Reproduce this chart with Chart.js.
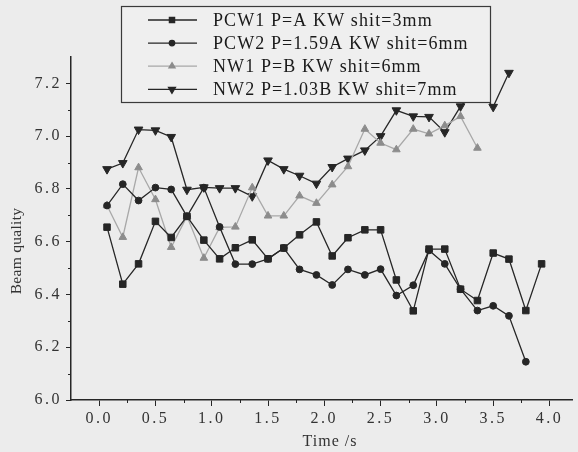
<!DOCTYPE html>
<html>
<head>
<meta charset="utf-8">
<script src="https://cdn.jsdelivr.net/npm/chart.js@4/dist/chart.umd.min.js"></script>
<style>
  html, body { margin: 0; padding: 0; background: #ececec; }
  #wrap { width: 578px; height: 452px; position: relative; }
</style>
</head>
<body>
<div id="wrap"><canvas id="c" width="578" height="452"></canvas></div>
<script>
// time of each sample (s)
const times = [0.07, 0.21, 0.35, 0.50, 0.64, 0.78, 0.93, 1.07, 1.21, 1.36, 1.50, 1.64, 1.78, 1.93,
               2.07, 2.21, 2.36, 2.50, 2.64, 2.79, 2.93, 3.07, 3.21, 3.36, 3.50, 3.64, 3.79, 3.93];

const pcw1 = [6.655, 6.439, 6.516, 6.677, 6.616, 6.696, 6.606, 6.535, 6.577, 6.607, 6.535, 6.576, 6.626, 6.675,
              6.546, 6.615, 6.645, 6.645, 6.455, 6.338, 6.572, 6.572, 6.420, 6.377, 6.557, 6.534, 6.339, 6.516];
const pcw2 = [6.737, 6.818, 6.756, 6.805, 6.798, 6.696, 6.805, 6.656, 6.515, 6.515, 6.535, 6.576, 6.495, 6.474,
              6.436, 6.495, 6.474, 6.496, 6.396, 6.435, 6.567, 6.516, 6.420, 6.339, 6.357, 6.319, 6.145];
const nw1  = [6.737, 6.617, 6.881, 6.760, 6.579, 6.696, 6.538, 6.654, 6.656, 6.805, 6.698, 6.698, 6.774, 6.746,
              6.816, 6.885, 7.027, 6.974, 6.949, 7.027, 7.009, 7.040, 7.075, 6.955];
const nw2  = [6.875, 6.898, 7.025, 7.022, 6.997, 6.797, 6.806, 6.803, 6.803, 6.772, 6.908, 6.875, 6.850, 6.820,
              6.883, 6.915, 6.946, 7.000, 7.098, 7.075, 7.073, 7.015, 7.113, 7.180, 7.111, 7.240];

const seriesNames = ['PCW1 P=A KW shit=3mm', 'PCW2 P=1.59A KW shit=6mm', 'NW1 P=B KW shit=6mm', 'NW2 P=1.03B KW shit=7mm'];

const xTicks = [0, 0.5, 1.0, 1.5, 2.0, 2.5, 3.0, 3.5, 4.0];
const xMinor = [0.25, 0.75, 1.25, 1.75, 2.25, 2.75, 3.25, 3.75];
const yTicks = [6.0, 6.2, 6.4, 6.6, 6.8, 7.0, 7.2];
const yMinor = [6.1, 6.3, 6.5, 6.7, 6.9, 7.1];

const ink = '#262626';
const serif = 'Liberation Serif';

const pts = arr => arr.map((v, i) => ({ x: times[i], y: v }));

const datasets = [
  { label: seriesNames[0], data: pts(pcw1), borderColor: ink, backgroundColor: ink, pointStyle: 'rect', pointRadius: 4.6, rotation: 0 },
  { label: seriesNames[1], data: pts(pcw2), borderColor: ink, backgroundColor: ink, pointStyle: 'circle', pointRadius: 3.4, rotation: 0 },
  { label: seriesNames[2], data: pts(nw1), borderColor: '#a8a8a8', backgroundColor: '#8c8c8c', pointBorderColor: '#8c8c8c', pointStyle: 'triangle', pointRadius: 4.4, rotation: 0 },
  { label: seriesNames[3], data: pts(nw2), borderColor: ink, backgroundColor: ink, pointStyle: 'triangle', pointRadius: 5, rotation: 180 }
].map(d => Object.assign({ borderWidth: 1.3, pointBorderWidth: 1, tension: 0, fill: false }, d));

// small ticks between labelled ones, axis titles, and the legend box drawn over the lines
const extras = {
  id: 'extras',
  afterDatasetsDraw(chart) {
    const ctx = chart.ctx, xs = chart.scales.x, ys = chart.scales.y;
    ctx.save();
    ctx.strokeStyle = ink; ctx.lineWidth = 1;
    ctx.beginPath();
    xMinor.forEach(v => { const px = Math.round(xs.getPixelForValue(v)) + 0.5; ctx.moveTo(px, ys.bottom); ctx.lineTo(px, ys.bottom + 3); });
    yMinor.forEach(v => { const py = Math.round(ys.getPixelForValue(v)) + 0.5; ctx.moveTo(xs.left - 3, py); ctx.lineTo(xs.left, py); });
    ctx.stroke();

    // axis titles
    ctx.fillStyle = '#333';
    ctx.textAlign = 'center'; ctx.textBaseline = 'middle';
    ctx.letterSpacing = '1px';
    ctx.font = '16px "' + serif + '"';
    ctx.fillText('Time /s', 330, 442);
    ctx.save();
    ctx.translate(17, 251); ctx.rotate(-Math.PI / 2);
    ctx.letterSpacing = '0.3px';
    ctx.font = '15.5px "' + serif + '"';
    ctx.fillText('Beam quality', 0, 0);
    ctx.restore();

    // legend
    const bx = 121, by = 6, bw = 369, bh = 96;
    ctx.fillStyle = '#efefef';
    ctx.fillRect(bx, by, bw, bh);
    ctx.strokeStyle = '#3a3a3a'; ctx.lineWidth = 1.2;
    ctx.strokeRect(bx + 0.5, by + 0.5, bw, bh);
    ctx.font = '18px "' + serif + '"';
    ctx.letterSpacing = '1.1px';
    ctx.textAlign = 'left';
    ctx.textBaseline = 'middle';
    chart.data.datasets.forEach((d, i) => {
      const cy = 20 + i * 23.1;
      ctx.strokeStyle = d.borderColor; ctx.lineWidth = 1.3;
      ctx.beginPath(); ctx.moveTo(148, cy); ctx.lineTo(197, cy); ctx.stroke();
      ctx.fillStyle = d.pointBorderColor || d.backgroundColor;
      ctx.strokeStyle = d.pointBorderColor || d.borderColor;
      Chart.helpers.drawPoint(ctx, { pointStyle: d.pointStyle, rotation: d.rotation, radius: d.pointRadius * 0.8, borderWidth: 1 }, 172, cy);
      ctx.fillStyle = '#1a1a1a';
      ctx.fillText(d.label, 213, cy + 1);
    });
    ctx.restore();
  }
};

const spacing = {
  id: 'spacing',
  beforeDraw(chart) { chart.ctx.letterSpacing = '2.5px'; }
};

new Chart(document.getElementById('c'), {
  type: 'line',
  data: { datasets },
  options: {
    responsive: false,
    animation: false,
    layout: { padding: { top: 57, right: 3, left: 0, bottom: 0 } },
    plugins: { legend: { display: false }, tooltip: { enabled: false } },
    scales: {
      x: {
        type: 'linear', min: -0.25, max: 4.2,
        afterBuildTicks: s => { s.ticks = xTicks.map(v => ({ value: v })); },
        afterFit: s => { s.height = 52; },
        grid: { drawOnChartArea: false, drawTicks: true, tickLength: 6, color: ink, tickWidth: 1 },
        border: { display: true, color: ink, width: 1.5 },
        ticks: { color: '#333', padding: 3, maxRotation: 0, font: { family: serif, size: 16 }, callback: v => v.toFixed(1) },
        title: { display: false }
      },
      y: {
        type: 'linear', min: 6.0, max: 7.3,
        afterBuildTicks: s => { s.ticks = yTicks.map(v => ({ value: v })); },
        afterFit: s => { s.width = 71; },
        grid: { drawOnChartArea: false, drawTicks: true, tickLength: 5, color: ink, tickWidth: 1 },
        border: { display: true, color: ink, width: 1.5 },
        ticks: { color: '#333', padding: 4, font: { family: serif, size: 16 }, callback: v => v.toFixed(1) },
        title: { display: false }
      }
    }
  },
  plugins: [spacing, extras]
});
</script>
</body>
</html>
